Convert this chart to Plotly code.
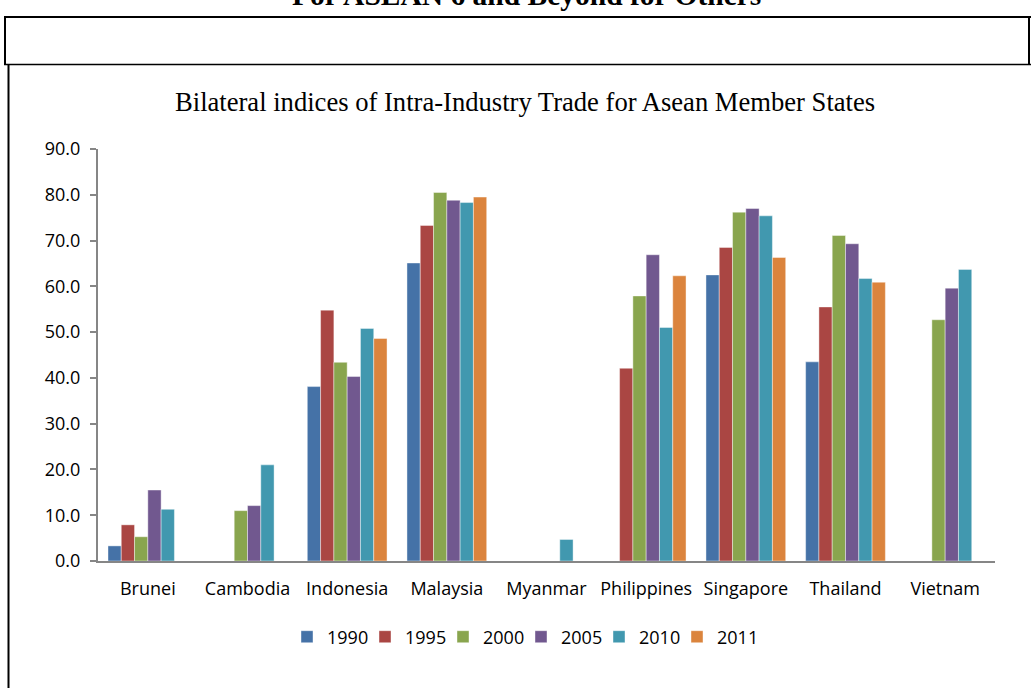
import plotly.graph_objects as go

countries = ["Brunei", "Cambodia", "Indonesia", "Malaysia", "Myanmar",
             "Philippines", "Singapore", "Thailand", "Vietnam"]
years = ["1990", "1995", "2000", "2005", "2010", "2011"]

v1990 = [3.3, None, 38.1, 65.1, None, None, 62.5, 43.5, None]
v1995 = [7.9, None, 54.8, 73.3, None, 42.1, 68.5, 55.5, None]
v2000 = [5.3, 11.0, 43.4, 80.5, None, 57.9, 76.2, 71.1, 52.7]
v2005 = [15.5, 12.1, 40.3, 78.8, None, 66.9, 77.0, 69.3, 59.6]
v2010 = [11.3, 21.0, 50.8, 78.3, 4.7, 51.0, 75.4, 61.7, 63.7]
v2011 = [None, None, 48.6, 79.5, None, 62.3, 66.3, 60.9, None]

series = [v1990, v1995, v2000, v2005, v2010, v2011]
colors = ["#4572A7", "#AA4643", "#89A54E", "#71588F", "#4198AF", "#DB843D"]

W, H = 1031, 688
# plot area in page pixels: x 98..995, y 149..561
L, T = 98, 149
R = W - 995
B = H - 561
pw, ph = W - L - R, H - T - B


def px(x):
    return (x - L) / pw


def py(y):
    return (H - B - y) / ph


fig = go.Figure()
for name, vals, c in zip(years, series, colors):
    fig.add_trace(go.Bar(
        x=countries, y=vals, name=name,
        marker=dict(color=c, line=dict(color="rgba(255,255,255,0.6)", width=0.7)),
    ))

line_black = dict(color="black", width=2)
shapes = [
    dict(type="line", xref="paper", yref="paper", x0=px(4), x1=px(1035), y0=py(17), y1=py(17), line=line_black),
    dict(type="line", xref="paper", yref="paper", x0=px(5), x1=px(5), y0=py(17), y1=py(65), line=line_black),
    dict(type="line", xref="paper", yref="paper", x0=px(1029), x1=px(1029), y0=py(17), y1=py(65), line=line_black),
    dict(type="line", xref="paper", yref="paper", x0=px(4), x1=px(1035), y0=py(64.5), y1=py(64.5), line=dict(color="black", width=1.5)),
    dict(type="line", xref="paper", yref="paper", x0=px(8.5), x1=px(8.5), y0=py(64), y1=py(700), line=line_black),
]

fig.update_layout(
    width=W, height=H,
    margin=dict(l=L, r=R, t=T, b=B),
    paper_bgcolor="white", plot_bgcolor="white",
    barmode="group", bargap=0.2, bargroupgap=0,
    font=dict(family="Open Sans, Liberation Sans, sans-serif", size=18, color="black"),
    shapes=shapes,
    annotations=[
        dict(text="Bilateral indices of Intra-Industry Trade for Asean Member States",
             xref="paper", yref="paper", x=px(525), y=py(102), xanchor="center", yanchor="middle",
             showarrow=False, font=dict(family="Liberation Serif, Times New Roman, serif", size=26.6, color="black")),
        dict(text="<b>For ASEAN 6 and Beyond for Others</b>",
             xref="paper", yref="paper", x=px(526), y=py(13), xanchor="center", yanchor="bottom",
             showarrow=False, font=dict(family="Liberation Serif, Times New Roman, serif", size=29.5, color="black")),
    ],
    legend=dict(orientation="h", x=px(521), xanchor="center", y=py(637), yanchor="middle",
                font=dict(size=18), traceorder="normal", itemwidth=30,
                entrywidth=33, entrywidthmode="pixels"),
    showlegend=True,
)

fig.update_xaxes(showline=True, linecolor="#868686", linewidth=2, ticks="",
                 tickfont=dict(size=18), showgrid=False, ticklabelstandoff=10)
fig.update_yaxes(range=[0, 90], dtick=10, tickformat=".1f", showline=True, linecolor="#868686",
                 linewidth=2, ticks="outside", ticklen=6, tickcolor="#868686", tickwidth=1.5,
                 showgrid=False, zeroline=False, tickfont=dict(size=18), ticklabelstandoff=6)

fig.write_html("out.html", config={"displayModeBar": False},
               post_script="document.body.style.margin='0';")
